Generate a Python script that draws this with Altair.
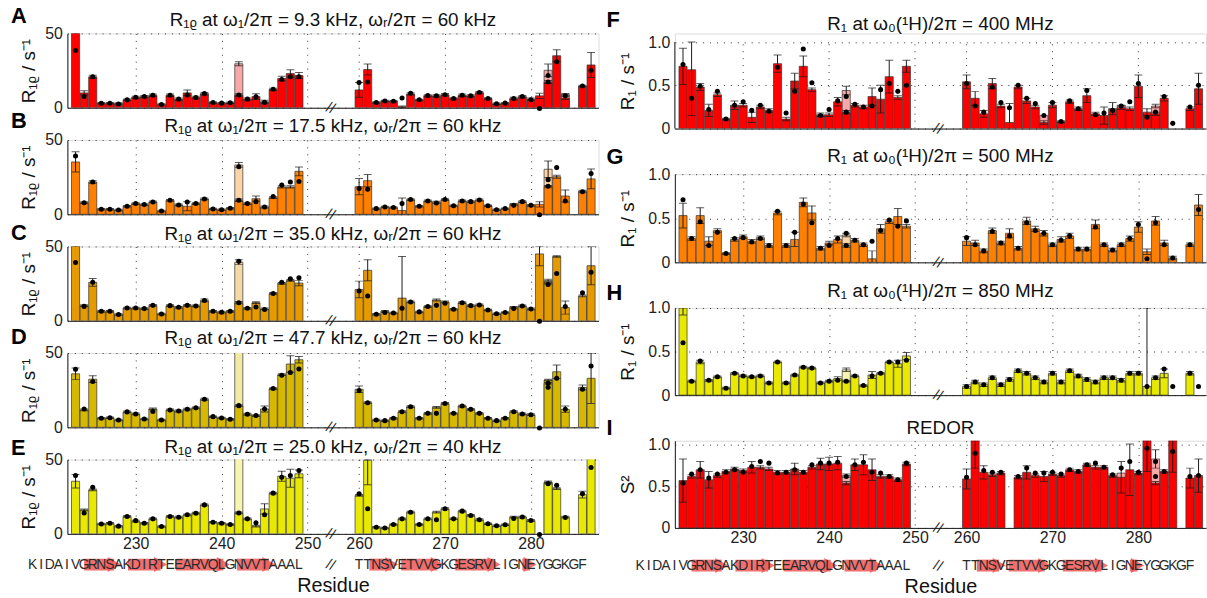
import altair as alt
import pandas as pd

FONT = "Liberation Sans"
RES = list(range(223, 250)) + list(range(260, 288))

def to_pos(r):
    return r if r <= 252 else r - 4

XMIN, XMAX = 222.05, 283.87
X_TICKS = [230, 240, 250, 260, 270, 280]
BREAK_POS = 252.7
LABEL_EXPR = "datum.value > 252 ? '' + (datum.value + 4) : '' + datum.value"

SEQ1 = "KIDAIVGRNSAKDIRTEEARVQLGNVVTAAAL"
SEQ1_START = 218
SEQ2 = "TTNSVETVVGKGESRVLIGNEYGGKGF"
SEQ2_START = 260
STRANDS = [(224.0, 228.3), (229.1, 233.7), (234.7, 241.0), (241.8, 246.3),
           (261.2, 264.6), (264.9, 269.9), (271.2, 276.5), (279.0, 280.7)]

# ---------------- R1rho panels ----------------
A_VAL = [60, 10, 20.8, 3, 3, 2.9, 5.3, 7, 7.5, 8.4, 2.2, 8.4, 5.8, 10, 6.9, 9.5, 3.5, 3.1, 3.3, 8.6, 5.8, 7.5, 4, 12.4, 19.7, 23, 21.7,
         12, 25.7, 3.5, 4.6, 4.4, 0.6, 9.3, 5.3, 8.2, 8, 8.8, 6.2, 8.4, 8, 10.2, 6.2, 2.7, 3.1, 6.2, 7.5, 5.8, 8, 17.3, 35, 6.5, None, 14.6, 28.8]
A_ERR = [3, 1.5, 1, 0.5, 0.5, 0.5, 0.6, 0.8, 0.8, 0.8, 0.5, 0.8, 0.8, 2, 0.8, 0.8, 0.5, 0.5, 0.5, 0.8, 0.8, 2, 1, 0.8, 1.5, 2.5, 2,
         5, 3.7, 0.5, 0.5, 0.5, 0.5, 0.8, 0.5, 0.8, 0.8, 0.8, 0.5, 0.8, 0.8, 0.8, 0.5, 0.5, 0.5, 0.8, 0.8, 0.8, 1.7, 1, 4, 1, None, 0.5, 8.4]
A_DOT = [38.5, 7.5, 20.8, 3, 3, 2.5, 5.3, 7, 7.5, 8.4, 2.2, 8.4, 5.8, 8.5, 6.9, 9.5, 3.5, 3.1, 3.3, 8.6, 5.8, 7.3, 3.6, 12.4, 19, 20.8, 20.8,
         17, 17.3, 3.5, 4.6, 4.4, 6.6, 9.7, 5.3, 8.2, 8, 8.8, 6.2, 8.4, 8, 10.2, 6.2, 2.7, 3.1, 6.2, 7.5, 5.3, -0.5, 17.3, 31, 8, None, 14.6, 25.2]
A_LIGHT = {242: (29.6, 1.4, None), 282: (25.2, 4.2, 21.7), 284: (9, 0.6, None)}

B_VAL = [35.2, 7.8, 21.7, 3.4, 3.4, 2.9, 5.4, 7.2, 6.5, 8.3, 2.2, 9.4, 6.3, 5.4, 7.2, 10.3, 3.6, 3.1, 4, 9.4, 7.2, 10.5, 4.9, 11.2, 18.4, 18.4, 28.9,
         18.6, 22.6, 3.8, 4.9, 4.5, 2.5, 9.9, 5.4, 9, 8.1, 9.9, 5.8, 9, 8.5, 9.6, 5.8, 3.1, 3.8, 6.7, 8.5, 6, 6.7, 18.8, 25.3, 12.3, None, 15.5, 23.8]
B_ERR = [6.8, 0.6, 0.8, 0.5, 0.5, 0.5, 0.5, 0.6, 0.6, 0.6, 0.5, 0.6, 0.6, 3, 0.6, 0.6, 0.5, 0.5, 0.5, 0.8, 0.6, 1.8, 0.6, 0.6, 0.8, 0.8, 2.9,
         5.4, 4.1, 0.5, 0.5, 0.5, 8.5, 0.6, 0.5, 0.6, 0.6, 0.6, 0.5, 0.6, 0.6, 0.6, 0.5, 0.5, 0.5, 0.6, 0.6, 0.6, 1.8, 0.6, 1, 4.1, None, 0.6, 6.7]
B_DOT = [39.2, 7.8, 21.7, 3.4, 3.4, 2.9, 5.4, 7.2, 6.5, 8.3, 2.2, 9.4, 6.3, 8.3, 7.2, 10.3, 3.6, 3.1, 4, 9.4, 7.2, 8.5, 4.9, 11.9, 19.7, 21.7, 22,
         17.3, 16.8, 3.8, 4.9, 4.5, 7.2, 9.9, 5.4, 9, 7.6, 9.9, 5.8, 9, 8.5, 9.6, 5.8, 3.1, 3.8, 6, 8.5, 6, -0.3, 18.8, 31.4, 9, None, 15.1, 27.4]
B_LIGHT = {242: (33.2, 1.6, 32), 282: (30.3, 5.6, 23.3)}

C_VAL = [60, 10.2, 25.9, 6.4, 6.4, 4.2, 8.6, 8.6, 8.2, 10.4, 4.6, 10.2, 9.1, 10.4, 10, 13.7, 6.4, 5.8, 6.4, 12.2, 8.4, 12.2, 8, 18.4, 25.2, 27.2, 25.4,
         21.1, 34, 4.4, 6.4, 5.3, 15.3, 12.7, 6, 9.6, 14, 12.7, 7.8, 12.2, 10.2, 10.7, 7.3, 4.7, 5.6, 9.1, 10, 8, 45, 25.3, 43.3, 8.9, None, 16.7, 37.1]
C_ERR = [3, 0.6, 2.6, 0.6, 0.6, 0.5, 0.6, 0.6, 0.6, 0.6, 0.5, 0.6, 0.6, 0.6, 0.6, 0.9, 0.6, 0.6, 0.6, 0.8, 0.6, 0.6, 0.6, 0.6, 0.6, 0.6, 1.8,
         5.6, 7.1, 0.5, 0.6, 0.5, 28, 0.6, 0.5, 0.6, 0.6, 0.6, 0.5, 0.6, 0.6, 0.6, 0.5, 0.5, 0.5, 0.6, 0.6, 0.6, 8, 0.6, 0.5, 4.4, None, 0.6, 12.9]
C_DOT = [39.2, 9.7, 25.9, 6.4, 6.4, 4.2, 8.6, 8.6, 8.2, 10.4, 4.6, 10.2, 9.1, 10.4, 10, 13.7, 6.4, 5.8, 6.4, 12.2, 8.4, 9.3, 7.6, 18.4, 25.9, 28.3, 29,
         20, 16.7, 4.4, 5.6, 5.3, 8.4, 12.7, 6, 9.6, 10.4, 11.8, 7.8, 12.2, 10.2, 10.7, 7.3, 4.7, 5.6, 8.2, 10, 8, -0.3, 24.4, 31.8, 9.6, None, 18.9, 32.7]
C_LIGHT = {242: (39.4, 1.6, 40), 282: (27.1, 0.8, None)}

D_VAL = [36, 11.7, 32.4, 6.1, 6.5, 5, 10.4, 9, 5.6, 12.4, 5, 11.7, 11, 12.2, 13.1, 18.9, 7.2, 6.3, 5.4, 14.6, 8.8, 7.9, 12.4, 26.1, 35.4, 42.6, 45.5,
         25.6, 16.6, 4.9, 4.5, 6.1, 10.5, 13.9, 6.1, 9.4, 13.5, 16.1, 9.4, 14.3, 12.1, 9.4, 6.1, 4.5, 6.1, 10.5, 9, 8.5, None, 31.8, 37.4, 12.1, None, 26.9, 33]
D_ERR = [3.9, 0.6, 2.3, 0.5, 0.5, 0.5, 0.6, 0.6, 0.5, 0.6, 0.5, 0.6, 0.6, 0.6, 0.6, 0.6, 0.5, 0.5, 0.5, 0.6, 0.6, 0.6, 2, 0.6, 0.6, 5.6, 2.2,
         2.2, 0.6, 0.5, 0.5, 0.5, 0.6, 0.6, 0.5, 0.6, 0.6, 0.6, 0.5, 0.6, 0.6, 0.6, 0.5, 0.5, 0.5, 0.6, 0.6, 0.6, None, 0.5, 4.5, 2.2, None, 1.6, 17]
D_DOT = [39, 12.4, 30.9, 6.1, 6.5, 5, 10.4, 9, 5.6, 10.6, 5, 11.7, 11, 12.2, 13.1, 18.9, 7.2, 6.3, 5.4, 14.6, 8.8, 7.9, 12.4, 26.1, 35, 36.9, 39.2,
         24.7, 16.6, 4.9, 4.5, 6.1, 10.5, 13.9, 6.1, 9.4, 9.4, 16.1, 9.4, 14.3, 12.1, 9.4, 6.1, 4.5, 6.1, 10.5, 9, 8.5, -0.5, 26.9, 33, 12.1, None, 25.6, 41.3]
D_LIGHT = {242: (55, 0, None), 282: (29.6, 0.5, 29.6)}

E_VAL = [35.4, 16.1, 29.6, 6.7, 7.2, 5.2, 11.7, 8.5, 7.2, 10.1, 4.9, 11.7, 11.2, 12.8, 13.9, 19.5, 7.8, 7.2, 6.3, 14.1, 10.1, 5.2, 16.8, 27.4, 38.8, 37.4, 40.4,
         25.9, 49.5, 4.5, 4, 6.3, 10.1, 14.6, 6.3, 10.1, 14.6, 16.9, 10.1, 15.3, 12.4, 9.5, 6.8, 5.4, 6.1, 11.3, 11.3, 9, None, 34.9, 30.4, 11.3, None, 26.4, 55]
E_ERR = [4.5, 0.6, 0.6, 0.5, 0.5, 0.5, 0.6, 0.6, 0.5, 0.6, 0.5, 0.6, 0.6, 0.6, 0.6, 0.6, 0.5, 0.5, 0.5, 0.6, 0.6, 0.6, 3.4, 0.6, 3.4, 6, 2.6,
         0.6, 16.5, 0.5, 0.5, 0.5, 0.6, 0.6, 0.5, 0.6, 0.6, 0.6, 0.5, 0.6, 0.6, 0.6, 0.5, 0.5, 0.5, 0.6, 0.6, 0.6, None, 0.7, 0.6, 0.6, None, 2.2, 0]
E_DOT = [39.2, 14.1, 31.4, 6.7, 7.2, 5.2, 11.7, 8.9, 7.2, 10.1, 4.9, 11.7, 11.2, 12.8, 13.9, 19.5, 7.8, 7.2, 6.3, 14.1, 10.1, 7.4, 12.8, 27.4, 38.1, 39.2, 42.6,
         27, 16.9, 4.5, 4, 6.3, 10.1, 14.6, 6.3, 10.1, 9.5, 16.9, 10.1, 15.3, 12.4, 9.5, 6.8, 5.4, 6.1, 10.3, 11.3, 9, -0.5, 33.8, 32.7, 11, None, 27, 44.6]
E_LIGHT = {242: (55, 0, None), 282: (34, 0.5, None)}

# ---------------- R1 / REDOR panels ----------------
F_VAL = [0.72, 0.68, 0.48, 0.21, 0.39, 0.11, 0.27, 0.27, 0.13, 0.25, 0.21, 0.75, 0.11, 0.55, 0.72, 0.45, 0.16, 0.16, 0.31, 0.19, 0.27, 0.25, 0.37, 0.34, 0.6, 0.36, 0.72,
         0.54, 0.35, 0.17, 0.52, 0.26, 0.07, 0.48, 0.32, 0.25, 0.07, 0.27, 0.08, 0.31, 0.23, 0.38, 0.17, 0.15, 0.23, 0.24, 0.23, 0.49, 0.19, 0.17, 0.35, None, None, 0.23, 0.46]
F_ERR = [0.21, 0.53, 0.04, 0.07, 0.02, 0.01, 0.05, 0.02, 0.06, 0.02, 0.02, 0.1, 0.02, 0.09, 0.12, 0.02, 0.02, 0.02, 0.05, 0.02, 0.02, 0.02, 0.1, 0.16, 0.19, 0.02, 0.07,
         0.08, 0.08, 0.04, 0.06, 0.02, 0.22, 0.02, 0.03, 0.02, 0.02, 0.03, 0.01, 0.02, 0.02, 0.08, 0.02, 0.1, 0.07, 0.02, 0.02, 0.13, 0.04, 0.02, 0.03, None, None, 0.02, 0.18]
F_DOT = [0.74, 0.35, 0.49, 0.22, 0.43, 0.11, 0.27, 0.31, 0.21, 0.27, 0.2, 0.71, 0.18, 0.43, 0.92, 0.53, 0.15, 0.22, 0.32, 0.19, 0.28, 0.25, 0.26, 0.45, 0.52, 0.43, 0.5,
         0.52, 0.26, 0.19, 0.48, 0.3, 0.24, 0.5, 0.35, 0.29, 0.15, 0.3, 0.08, 0.32, 0.23, 0.44, 0.16, 0.18, 0.21, 0.26, 0.31, 0.52, 0.13, 0.19, 0.37, 0.06, None, 0.25, 0.5]
F_LIGHT = {242: (0.44, 0.05, 0.37), 269: (0.15, 0.0, None), 278: (0.27, 0.0, None), 282: (0.26, 0.02, None)}

G_VAL = [0.53, 0.27, 0.53, 0.24, 0.36, 0.1, 0.26, 0.29, 0.24, 0.28, 0.19, 0.56, 0.19, 0.26, 0.68, 0.56, 0.16, 0.22, 0.26, 0.19, 0.25, 0.2, 0.04, 0.38, 0.46, 0.52, 0.41,
         0.24, 0.22, 0.13, 0.36, 0.22, 0.33, 0.16, 0.47, 0.38, 0.33, 0.2, 0.26, 0.3, 0.15, 0.15, 0.43, 0.2, 0.14, 0.2, 0.27, 0.4, 0.12, 0.47, 0.22, 0.05, None, 0.2, 0.65]
G_ERR = [0.14, 0.02, 0.09, 0.05, 0.02, 0.01, 0.02, 0.02, 0.02, 0.02, 0.02, 0.02, 0.02, 0.08, 0.05, 0.08, 0.02, 0.02, 0.04, 0.02, 0.02, 0.02, 0.09, 0.05, 0.02, 0.09, 0.02,
         0.05, 0.03, 0.02, 0.03, 0.02, 0.05, 0.02, 0.04, 0.03, 0.03, 0.02, 0.03, 0.03, 0.02, 0.02, 0.05, 0.02, 0.02, 0.02, 0.03, 0.06, 0.03, 0.05, 0.03, 0.02, None, 0.02, 0.12]
G_DOT = [0.71, 0.27, 0.46, 0.19, 0.34, 0.1, 0.27, 0.28, 0.23, 0.27, 0.19, 0.58, 0.19, 0.34, 0.66, 0.45, 0.16, 0.19, 0.27, 0.19, 0.25, 0.2, 0.24, 0.36, 0.48, 0.41, 0.47,
         0.28, 0.2, 0.13, 0.35, 0.22, 0.3, 0.16, 0.45, 0.36, 0.33, 0.2, 0.25, 0.3, 0.15, 0.15, 0.4, 0.2, 0.14, 0.2, 0.27, 0.43, 0.04, 0.45, 0.2, 0.05, None, 0.2, 0.6]
G_LIGHT = {242: (0.31, 0.02, 0.33)}

H_VAL = [1.12, 0.16, 0.38, 0.17, 0.21, 0.08, 0.25, 0.22, 0.21, 0.22, 0.14, 0.38, 0.14, 0.23, 0.32, 0.31, 0.14, 0.16, 0.19, 0.16, 0.22, 0.11, 0.23, 0.25, 0.38, 0.36, 0.45,
         0.1, 0.15, 0.12, 0.2, 0.12, 0.18, 0.28, 0.25, 0.2, 0.15, 0.25, 0.15, 0.28, 0.22, 0.18, 0.15, 0.2, 0.2, 0.17, 0.25, 0.25, 0.1, 0.2, 0.25, None, None, 0.25, None]
H_ERR = [0.2, 0.01, 0.02, 0.01, 0.01, 0.01, 0.01, 0.01, 0.01, 0.01, 0.01, 0.01, 0.01, 0.01, 0.01, 0.01, 0.01, 0.01, 0.02, 0.01, 0.01, 0.01, 0.04, 0.01, 0.01, 0.04, 0.04,
         0.02, 0.02, 0.02, 0.02, 0.02, 0.02, 0.02, 0.02, 0.02, 0.02, 0.02, 0.02, 0.02, 0.02, 0.02, 0.02, 0.02, 0.02, 0.02, 0.02, 0.02, 0.9, 0.02, 0.05, None, None, 0.02, None]
H_DOT = [0.6, 0.16, 0.39, 0.17, 0.21, 0.08, 0.25, 0.22, 0.21, 0.22, 0.14, 0.38, 0.14, 0.23, 0.32, 0.31, 0.14, 0.16, 0.17, 0.16, 0.22, 0.11, 0.22, 0.25, 0.38, 0.38, 0.4,
         0.1, 0.15, 0.12, 0.2, 0.12, 0.18, 0.28, 0.25, 0.2, 0.15, 0.25, 0.15, 0.28, 0.22, 0.18, 0.15, 0.2, 0.2, 0.17, 0.25, 0.25, 0.1, 0.2, 0.3, 0.1, None, 0.25, 0.1]
H_LIGHT = {242: (0.29, 0.02, None)}

I_VAL = [0.57, 0.62, 0.7, 0.58, 0.63, 0.68, 0.71, 0.69, 0.73, 0.73, 0.71, 0.67, 0.67, 0.71, 0.67, 0.73, 0.77, 0.77, 0.78, 0.54, 0.76, 0.76, 0.7, 0.62, 0.62, 0.58, 0.77,
         0.59, 1.1, 0.67, 0.64, 0.66, None, 0.61, 0.67, 0.63, 0.62, 0.65, 0.63, 0.7, 0.68, 0.76, 0.73, 0.73, 0.63, 0.61, 0.7, 0.66, 1.15, 0.54, 0.68, 1.15, None, 0.6, 0.63]
I_ERR = [0.26, 0.02, 0.1, 0.1, 0.02, 0.02, 0.02, 0.02, 0.07, 0.02, 0.02, 0.02, 0.02, 0.07, 0.02, 0.02, 0.07, 0.08, 0.08, 0.02, 0.07, 0.12, 0.13, 0.02, 0.02, 0.02, 0.02,
         0.12, 0.38, 0.08, 0.02, 0.02, None, 0.02, 0.08, 0.02, 0.06, 0.02, 0.02, 0.02, 0.02, 0.02, 0.02, 0.02, 0.02, 0.19, 0.31, 0.02, 0.47, 0.02, 0.02, 0.48, None, 0.12, 0.2]
I_DOT = [0.54, 0.65, 0.7, 0.6, 0.65, 0.67, 0.7, 0.67, 0.74, 0.8, 0.78, 0.66, 0.67, 0.7, 0.67, 0.76, 0.78, 0.78, 0.79, 0.62, 0.76, 0.79, 0.67, 0.66, 0.62, 0.58, 0.78,
         0.61, 0.9, 0.69, 0.67, 0.67, None, 0.62, 0.72, 0.66, 0.66, 0.67, 0.65, 0.7, 0.68, 0.76, 0.78, 0.73, 0.64, 0.72, 0.8, 0.67, 0.96, 0.62, 0.68, 0.92, None, 0.62, 0.63]
I_LIGHT = {242: (0.63, 0.02, None), 278: (0.66, 0.0, None), 282: (0.83, 0.11, 0.8)}

RED, RED_L = "#ff0000", "#f8a8a8"
ORANGE, ORANGE_L = "#ff8000", "#fdd3a8"
GOLD, GOLD_L = "#e59b00", "#f4d9a6"
OLIVE, OLIVE_L = "#d6b800", "#f2e9a2"
YELLOW, YELLOW_L = "#e8e800", "#f6f6b0"
ARROW = "#ee5f5f"
INK = "#1a1a1a"
GRID = "#333"
PW = 536


def main_df(val, err, dot):
    return pd.DataFrame({"res": RES, "pos": [to_pos(r) for r in RES],
                         "val": val, "err": err, "dot": dot})


def light_frame(light):
    rows = [{"res": r, "pos": to_pos(r), "val": v, "err": e, "dot": d}
            for r, (v, e, d) in light.items()]
    return pd.DataFrame(rows)


def panel(val, err, dot, light, color, lcolor, ydom, yticks, ylabel_expr, ytitle,
          title, t_y, letter, l_x, l_y, h, bottom=False, seq_dy=31, ytp=6, xtp=24,
          vis_top=None, guard=None):
    frame_top = vis_top if vis_top is not None else ydom[1]
    xs = alt.Scale(domain=[XMIN, XMAX], nice=False, zero=False)
    xa_kw = dict(values=[to_pos(t) for t in X_TICKS], labelExpr=LABEL_EXPR, labels=bottom,
                 grid=vis_top is None, gridDash=[1, 6], gridColor=GRID, gridWidth=1,
                 ticks=False, domainColor=INK, domainWidth=1,
                 labelFont=FONT, labelFontSize=16, labelColor="#222", labelPadding=2,
                 titleFont=FONT, titleFontSize=20, titleFontWeight="normal",
                 titleColor="#111", titlePadding=xtp)
    xa = alt.Axis(title="Residue", **xa_kw) if bottom else alt.Axis(title=None, **xa_kw)
    ys = alt.Scale(domain=ydom, nice=False, zero=False)
    ya = alt.Axis(values=yticks, labelExpr=ylabel_expr, title=ytitle,
                  grid=True, gridDash=[1, 6], gridColor=GRID, gridWidth=1,
                  ticks=False, domain=vis_top is None, domainColor=INK, domainWidth=1,
                  labelFont=FONT, labelFontSize=16, labelColor="#222", labelPadding=5,
                  titleFont=FONT, titleFontSize=19, titleFontWeight="normal",
                  titleColor="#111", titlePadding=ytp)

    def X(f):
        return alt.X(f, type="quantitative", scale=xs, axis=xa)

    def Y(f):
        return alt.Y(f, type="quantitative", scale=ys, axis=ya)

    def bars(df, fill):
        return alt.Chart(df).transform_filter("isValid(datum.val)").transform_calculate(
            x0="datum.pos - 0.47", x1="datum.pos + 0.47", zero="0"
        ).mark_bar(color=fill, stroke="#333", strokeWidth=0.7, clip=True).encode(
            x=X("x0"), x2=alt.X2("x1"), y=Y("val"), y2=alt.Y2("zero"))

    def errs(df):
        base = alt.Chart(df).transform_filter("isValid(datum.val) && datum.err > 0").transform_calculate(
            lo="datum.val - datum.err", hi="min(datum.val + datum.err, %s)" % frame_top)
        r = base.mark_rule(color=INK, strokeWidth=1, clip=True).encode(
            x=X("pos"), y=Y("lo"), y2=alt.Y2("hi"))
        c1 = base.mark_tick(orient="horizontal", size=8, thickness=1, color=INK, clip=True).encode(
            x=X("pos"), y=Y("lo"))
        c2 = base.mark_tick(orient="horizontal", size=8, thickness=1, color=INK, clip=True).encode(
            x=X("pos"), y=Y("hi"))
        return [r, c1, c2]

    def dots(df):
        return alt.Chart(df).transform_filter("isValid(datum.dot)").mark_circle(
            size=26, color="#000", opacity=1).encode(x=X("pos"), y=Y("dot"))

    mdf = main_df(val, err, dot)
    ldf = light_frame(light)
    layers = []
    if vis_top is not None:
        gdf = pd.DataFrame({"pos": [to_pos(t) for t in X_TICKS], "y0": [ydom[0]] * len(X_TICKS),
                            "y1": [vis_top] * len(X_TICKS)})
        layers.append(alt.Chart(gdf).mark_rule(strokeDash=[1, 6], color=GRID, strokeWidth=1).encode(
            x=X("pos"), y=Y("y0"), y2=alt.Y2("y1")))
        adf = pd.DataFrame({"y0": [ydom[0]], "y1": [vis_top]})
        layers.append(alt.Chart(adf).mark_rule(color=INK, strokeWidth=1).encode(
            x=alt.value(0), y=Y("y0"), y2=alt.Y2("y1")))
    layers += [bars(ldf, lcolor), bars(mdf, color)] + errs(ldf) + errs(mdf) + [dots(ldf), dots(mdf)]

    brk = alt.Chart(pd.DataFrame({"pos": [BREAK_POS], "y": [ydom[0]]})).mark_text(
        text="//", fontSize=15, font=FONT, color=INK, angle=20).encode(x=X("pos"), y=Y("y"))
    layers.append(brk)

    lt = alt.Chart(pd.DataFrame({"t": [letter]})).mark_text(
        align="left", baseline="middle", fontSize=22, fontWeight="bold", font=FONT, color="#000"
    ).encode(text="t:N", x=alt.value(l_x), y=alt.value(l_y))
    tt = alt.Chart(pd.DataFrame({"t": [title]})).mark_text(
        align="center", baseline="alphabetic", fontSize=19, font=FONT, color="#111"
    ).encode(text="t:N", x=alt.value(PW / 2), y=alt.value(t_y))
    layers += [lt, tt]
    if guard is not None:
        layers.append(alt.Chart(pd.DataFrame({"g": [0]})).mark_rule(opacity=0, strokeOpacity=0).encode(
            x=alt.value(PW / 2), x2=alt.value(PW / 2 + 1), y=alt.value(guard), y2=alt.value(guard)))

    if bottom:
        yy = h + seq_dy
        sdf = pd.DataFrame({"s": [to_pos(a) for a, b in STRANDS],
                            "e": [to_pos(b) - 0.8 for a, b in STRANDS],
                            "hc": [to_pos(b) - 0.8 for a, b in STRANDS]})
        body = alt.Chart(sdf).mark_rect(color=ARROW, opacity=0.9).encode(
            x=X("s"), x2=alt.X2("e"), y=alt.value(yy - 6), y2=alt.value(yy + 6))
        head = alt.Chart(sdf).mark_point(shape="triangle-right", filled=True, size=230,
                                         color=ARROW, opacity=0.9).encode(
            x=X("hc"), y=alt.value(yy))
        chars = list(SEQ1) + list(SEQ2)
        cpos = [to_pos(SEQ1_START + i) for i in range(len(SEQ1))] + \
               [to_pos(SEQ2_START + i) for i in range(len(SEQ2))]
        seq = alt.Chart(pd.DataFrame({"pos": cpos, "ch": chars})).mark_text(
            fontSize=14, font=FONT, color="#2a2a2a", baseline="middle").encode(
            x=X("pos"), y=alt.value(yy), text="ch:N")
        sbrk = alt.Chart(pd.DataFrame({"pos": [BREAK_POS]})).mark_text(
            text="//", fontSize=15, font=FONT, color=INK, angle=20, baseline="middle").encode(
            x=X("pos"), y=alt.value(yy))
        layers += [body, head, seq, sbrk]

    return alt.layer(*layers).properties(width=PW, height=h)


R1P = "R\u2081\u1d68  /  s\u207b\u00b9"
R1 = "R\u2081  /  s\u207b\u00b9"
LEFT_EXPR = "'' + datum.value"
RIGHT_EXPR = "datum.value == 0 ? '0' : format(datum.value, '.1f')"


def t_rho(w1, wr):
    return "R\u2081\u1d68 at \u03c9\u2081/2\u03c0 = %s kHz, \u03c9\u1d63/2\u03c0 = %s kHz" % (w1, wr)


def t_r1(f):
    return "R\u2081 at \u03c9\u2080(\u00b9H)/2\u03c0 = %s MHz" % f


LH = 75
pA = panel(A_VAL, A_ERR, A_DOT, A_LIGHT, RED, RED_L, [0, 50], [0, 50], LEFT_EXPR, R1P,
           t_rho("9.3", "60"), -8, "A", -57, -18, LH, guard=-30)
pB = panel(B_VAL, B_ERR, B_DOT, B_LIGHT, ORANGE, ORANGE_L, [0, 50], [0, 50], LEFT_EXPR, R1P,
           t_rho("17.5", "60"), -8, "B", -57, -19, LH)
pC = panel(C_VAL, C_ERR, C_DOT, C_LIGHT, GOLD, GOLD_L, [0, 50], [0, 50], LEFT_EXPR, R1P,
           t_rho("35.0", "60"), -7, "C", -57, -14, LH)
pD = panel(D_VAL, D_ERR, D_DOT, D_LIGHT, OLIVE, OLIVE_L, [0, 50], [0, 50], LEFT_EXPR, R1P,
           t_rho("47.7", "60"), -9, "D", -57, -16, LH)
pE = panel(E_VAL, E_ERR, E_DOT, E_LIGHT, YELLOW, YELLOW_L, [0, 50], [0, 50], LEFT_EXPR, R1P,
           t_rho("25.0", "40"), -7, "E", -57, -12, LH, bottom=True, seq_dy=31, xtp=24)

# F's frame starts at the same height as A; its visible axis stops at 1.0
pF = panel(F_VAL, F_ERR, F_DOT, F_LIGHT, RED, RED_L, [0, 1.1], [0, 0.5, 1.0], RIGHT_EXPR, R1,
           t_r1("400"), -3, "F", -69, -13, 96, ytp=10, vis_top=1.0)
pG = panel(G_VAL, G_ERR, G_DOT, G_LIGHT, ORANGE, ORANGE_L, [0, 1.0], [0, 0.5, 1.0], RIGHT_EXPR, R1,
           t_r1("500"), -12, "G", -69, -17, 89, ytp=10)
pH = panel(H_VAL, H_ERR, H_DOT, H_LIGHT, YELLOW, YELLOW_L, [0, 1.0], [0, 0.5, 1.0], RIGHT_EXPR, R1,
           t_r1("850"), -11, "H", -69, -15, 88, ytp=10)
pI = panel(I_VAL, I_ERR, I_DOT, I_LIGHT, RED, RED_L, [0, 1.05], [0, 0.5, 1.0], RIGHT_EXPR, "S\u00b2",
           "REDOR", -7, "I", -69, -13, 88, bottom=True, seq_dy=38, ytp=10, xtp=31)

left = alt.vconcat(pA, pB, pC, pD, pE, spacing=32.5, bounds="flush")
right = alt.vconcat(pF, pG, pH, pI, spacing=46, bounds="flush")

chart = alt.hconcat(left, right, spacing=6).properties(
    padding={"left": 10, "top": 0, "right": 0, "bottom": 0}
).configure_view(stroke=None).configure(background="white")

chart.save("out.html", embed_options={"renderer": "svg", "actions": False})
